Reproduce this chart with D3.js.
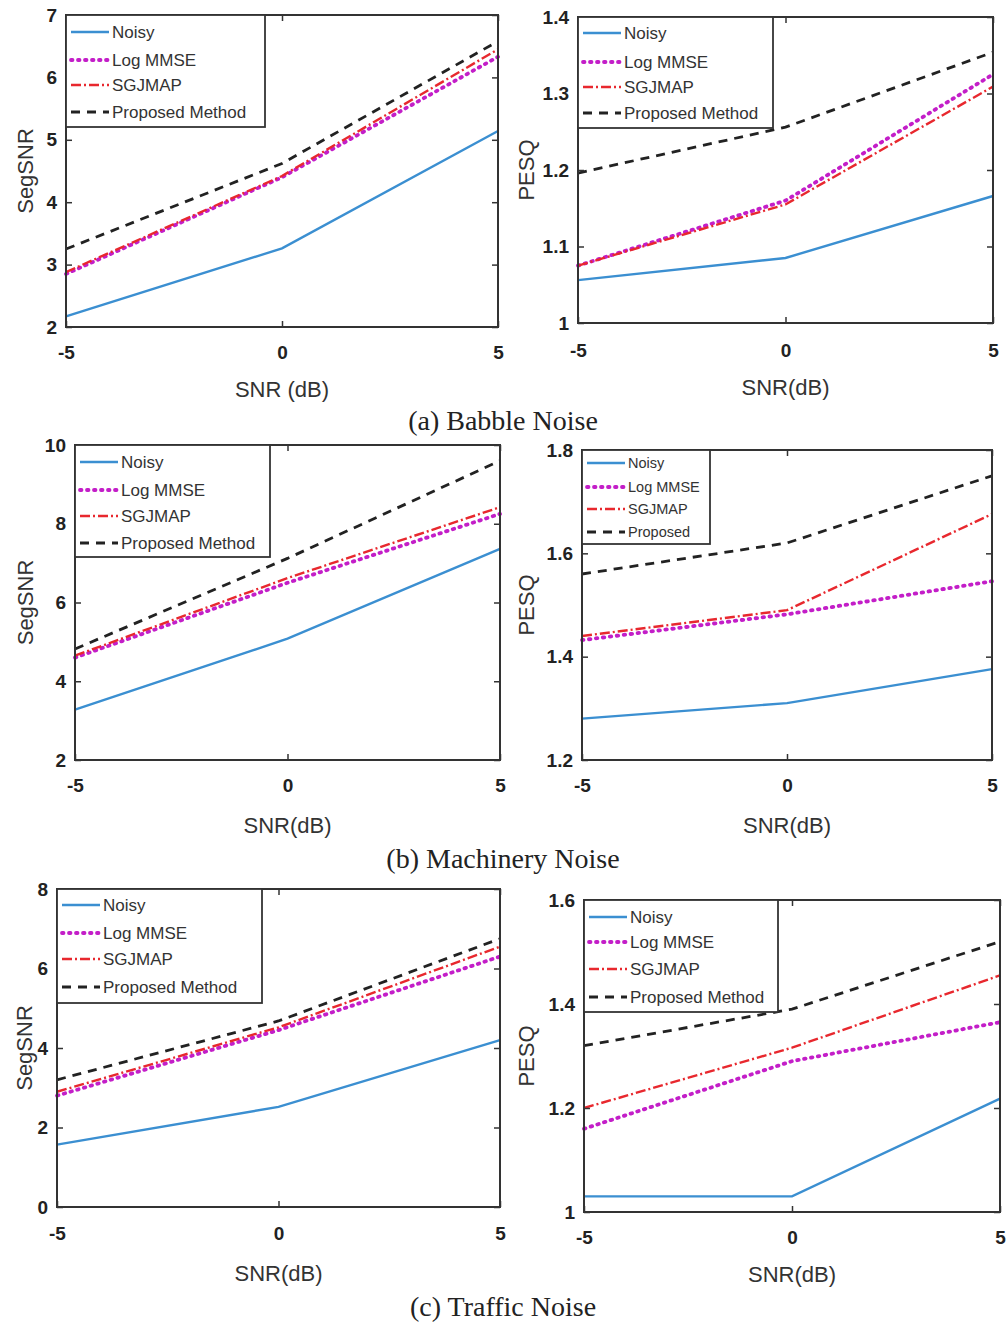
<!DOCTYPE html>
<html>
<head>
<meta charset="utf-8">
<script src="https://cdn.jsdelivr.net/npm/d3@7"></script>
<style>
  body { margin: 0; background: #fff; }
  svg { display: block; }
  .tick text { font-family: "Liberation Sans", Arial, sans-serif; font-weight: bold; font-size: 19px; fill: #222; }
  .lbl { font-family: "Liberation Sans", Arial, sans-serif; font-size: 22px; fill: #333; }
  .leg { font-family: "Liberation Sans", Arial, sans-serif; fill: #333; }
  .cap { font-family: "Liberation Serif", "Times New Roman", serif; font-size: 28px; fill: #222; }
</style>
</head>
<body>
<div id="chart"></div>
<script>
// x values shared by all panels
var snr = [-5, 0, 5];
var seriesNames = ["Noisy", "Log MMSE", "SGJMAP", "Proposed Method"];

// (a) Babble noise
var babbleSeg = {
    noisy: [2.17, 3.26, 5.14],
    logmmse: [2.85, 4.40, 6.33],
    sgjmap: [2.88, 4.42, 6.45],
    proposed: [3.25, 4.62, 6.58]
};
var babblePesq = {
    noisy: [1.056, 1.085, 1.166],
    logmmse: [1.075, 1.160, 1.325],
    sgjmap: [1.075, 1.155, 1.309],
    proposed: [1.196, 1.256, 1.354]
};
// (b) Machinery noise
var machSeg = {
    noisy: [3.28, 5.08, 7.36],
    logmmse: [4.60, 6.50, 8.25],
    sgjmap: [4.65, 6.62, 8.42],
    proposed: [4.82, 7.12, 9.60]
};
var machPesq = {
    noisy: [1.280, 1.310, 1.376],
    logmmse: [1.432, 1.482, 1.546],
    sgjmap: [1.440, 1.490, 1.676],
    proposed: [1.560, 1.620, 1.750]
};
// (c) Traffic noise
var trafSeg = {
    noisy: [1.57, 2.52, 4.20],
    logmmse: [2.80, 4.45, 6.30],
    sgjmap: [2.90, 4.52, 6.55],
    proposed: [3.20, 4.68, 6.75]
};
var trafPesq = {
    noisy: [1.030, 1.030, 1.218],
    logmmse: [1.160, 1.290, 1.365],
    sgjmap: [1.200, 1.316, 1.455],
    proposed: [1.320, 1.390, 1.520]
};

// y tick values
var ticksBabbleSeg = [2, 3, 4, 5, 6, 7];
var ticksBabblePesq = [1, 1.1, 1.2, 1.3, 1.4];
var ticksMachSeg = [2, 4, 6, 8, 10];
var ticksMachPesq = [1.2, 1.4, 1.6, 1.8];
var ticksTrafSeg = [0, 2, 4, 6, 8];
var ticksTrafPesq = [1, 1.2, 1.4, 1.6];

var captions = ["(a) Babble Noise", "(b) Machinery Noise", "(c) Traffic Noise"];

var styles = {
    noisy: { color: "#3b8fd1", width: 2.4, dash: null },
    logmmse: { color: "#c31ec8", width: 3.8, dash: "1.5,5.5", cap: "round" },
    sgjmap: { color: "#e8282e", width: 2.4, dash: "10,3,2,3" },
    proposed: { color: "#222", width: 2.8, dash: "9,7" }
};
var keys = ["noisy", "logmmse", "sgjmap", "proposed"];

var panels = [
    { data: babbleSeg, ticks: ticksBabbleSeg, ylab: "SegSNR", xlab: "SNR (dB)",
      l: 66, r: 498, t: 15, b: 327, ylx: 25, xly: 389, xty: 352,
      leg: { w: 199, h: 112, rows: [17, 45, 70, 97], fs: 17, names: seriesNames } },
    { data: babblePesq, ticks: ticksBabblePesq, ylab: "PESQ", xlab: "SNR(dB)",
      l: 578, r: 993, t: 17, b: 323, ylx: 526, xly: 387, xty: 350,
      leg: { w: 195, h: 111, rows: [16, 45, 70, 96], fs: 17, names: seriesNames } },
    { data: machSeg, ticks: ticksMachSeg, ylab: "SegSNR", xlab: "SNR(dB)",
      l: 75, r: 500, t: 445, b: 760, ylx: 25, xly: 825, xty: 785,
      leg: { w: 195, h: 112, rows: [17, 45, 71, 98], fs: 17, names: seriesNames } },
    { data: machPesq, ticks: ticksMachPesq, ylab: "PESQ", xlab: "SNR(dB)",
      l: 582, r: 992, t: 450, b: 760, ylx: 526, xly: 825, xty: 785,
      leg: { w: 128, h: 94, rows: [13, 37, 59, 82], fs: 14.5, names: ["Noisy", "Log MMSE", "SGJMAP", "Proposed"] } },
    { data: trafSeg, ticks: ticksTrafSeg, ylab: "SegSNR", xlab: "SNR(dB)",
      l: 57, r: 500, t: 889, b: 1207, ylx: 24, xly: 1273, xty: 1233,
      leg: { w: 205, h: 114, rows: [16, 44, 70, 98], fs: 17, names: seriesNames } },
    { data: trafPesq, ticks: ticksTrafPesq, ylab: "PESQ", xlab: "SNR(dB)",
      l: 584, r: 1000, t: 900, b: 1212, ylx: 526, xly: 1274, xty: 1237,
      leg: { w: 194, h: 112, rows: [17, 42, 69, 97], fs: 17, names: seriesNames } }
];

var svg = d3.select("#chart").append("svg")
    .attr("width", 1006)
    .attr("height", 1332);

panels.forEach(function (p) {
    var x = d3.scaleLinear().domain([-5, 5]).range([p.l, p.r]);
    var y = d3.scaleLinear().domain([p.ticks[0], p.ticks[p.ticks.length - 1]]).range([p.b, p.t]);
    var g = svg.append("g");

    // series lines
    var line = d3.line()
        .x(function (d, i) { return x(snr[i]); })
        .y(function (d) { return y(d); });
    keys.forEach(function (k) {
        var s = styles[k];
        g.append("path")
            .datum(p.data[k])
            .attr("d", line)
            .attr("fill", "none")
            .attr("stroke", s.color)
            .attr("stroke-width", s.width)
            .attr("stroke-dasharray", s.dash)
            .attr("stroke-linecap", s.cap || "butt");
    });

    // axes, MATLAB-like inward ticks
    var ax = g.append("g")
        .attr("transform", "translate(0," + p.b + ")")
        .call(d3.axisBottom(x).tickValues(snr).tickSize(-6).tickFormat(function (d) { return String(d); }));
    ax.select(".domain").remove();
    ax.selectAll("line").attr("stroke", "#333").attr("stroke-width", 1.5);
    ax.selectAll("text").attr("y", p.xty - p.b).attr("dy", "0.35em");

    g.append("g")
        .attr("transform", "translate(0," + p.t + ")")
        .call(d3.axisTop(x).tickValues(snr).tickSize(-6).tickFormat(""))
        .call(function (a) { a.select(".domain").remove(); a.selectAll("line").attr("stroke", "#333").attr("stroke-width", 1.5); });

    var ay = g.append("g")
        .attr("transform", "translate(" + p.l + ",0)")
        .call(d3.axisLeft(y).tickValues(p.ticks).tickSize(-6).tickPadding(9).tickFormat(d3.format("~g")));
    ay.select(".domain").remove();
    ay.selectAll("line").attr("stroke", "#333").attr("stroke-width", 1.5);

    g.append("g")
        .attr("transform", "translate(" + p.r + ",0)")
        .call(d3.axisRight(y).tickValues(p.ticks).tickSize(-6).tickFormat(""))
        .call(function (a) { a.select(".domain").remove(); a.selectAll("line").attr("stroke", "#333").attr("stroke-width", 1.5); });

    // frame
    g.append("rect")
        .attr("x", p.l).attr("y", p.t)
        .attr("width", p.r - p.l).attr("height", p.b - p.t)
        .attr("fill", "none").attr("stroke", "#333").attr("stroke-width", 2);

    // axis labels
    g.append("text").attr("class", "lbl")
        .attr("x", (p.l + p.r) / 2).attr("y", p.xly)
        .attr("text-anchor", "middle").attr("dy", "0.35em")
        .text(p.xlab);
    g.append("text").attr("class", "lbl")
        .attr("transform", "translate(" + p.ylx + "," + (p.t + p.b) / 2 + ") rotate(-90)")
        .attr("text-anchor", "middle").attr("dy", "0.35em")
        .text(p.ylab);

    // legend
    var lg = g.append("g").attr("transform", "translate(" + p.l + "," + p.t + ")");
    lg.append("rect")
        .attr("width", p.leg.w).attr("height", p.leg.h)
        .attr("fill", "#fff").attr("stroke", "#333").attr("stroke-width", 1.8);
    keys.forEach(function (k, i) {
        var s = styles[k];
        var ry = p.leg.rows[i];
        lg.append("line")
            .attr("x1", 5).attr("x2", 43).attr("y1", ry).attr("y2", ry)
            .attr("stroke", s.color)
            .attr("stroke-width", s.width)
            .attr("stroke-dasharray", s.dash)
            .attr("stroke-linecap", s.cap || "butt");
        lg.append("text").attr("class", "leg")
            .attr("x", 46).attr("y", ry).attr("dy", "0.35em")
            .style("font-size", p.leg.fs + "px")
            .text(p.leg.names[i]);
    });
});

// captions under each row
var capY = [420, 858, 1306];
captions.forEach(function (c, i) {
    svg.append("text").attr("class", "cap")
        .attr("x", 503).attr("y", capY[i]).attr("dy", "0.35em")
        .attr("text-anchor", "middle")
        .text(c);
});
</script>
</body>
</html>
